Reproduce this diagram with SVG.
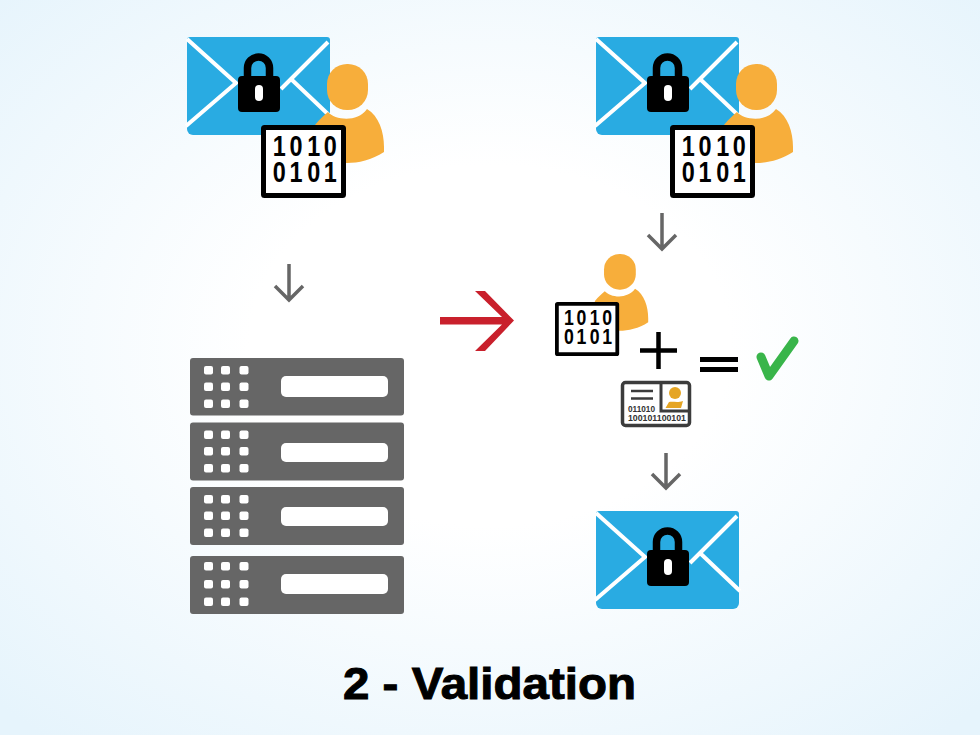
<svg xmlns="http://www.w3.org/2000/svg" width="980" height="735" viewBox="0 0 980 735">
<style>
.gray{fill:none;stroke:#666;stroke-width:3.500}
.rack{fill:#666}
.w{fill:#fff}
.digits{font-family:"Liberation Sans",Arial,sans-serif;font-weight:700;font-size:30px;fill:#000;text-anchor:middle}
.id{font-family:"Liberation Sans",Arial,sans-serif;font-weight:700;font-size:9px;fill:#333}
</style>
<defs>
<radialGradient id="bg" cx="50%" cy="47%" r="70%">
<stop offset="0.35" stop-color="#fff"/><stop offset="1" stop-color="#e6f4fc"/>
</radialGradient>
<symbol id="env" overflow="visible">
<path d="M3 0H140a3 3 0 0 1 3 3V92a6 6 0 0 1-6 6H6a6 6 0 0 1-6-6V3a3 3 0 0 1 3-3Z" fill="#29abe2"/>
<path d="M0 2L49 46L-1 89M141 5L94 52M104 42L144 80" fill="none" stroke="#fff" stroke-width="4"/>
<path d="M60.500 41V31a11 11 0 0 1 22 0V41" fill="none" stroke="#000" stroke-width="7.500"/>
<rect x="51" y="39" width="42" height="36" rx="4" fill="#000"/>
<rect x="68" y="48" width="8" height="16" rx="4" fill="#fff"/>
</symbol>
<symbol id="person" overflow="visible">
<path d="M315 125C320 119 324 115 328 112C335 120 357 123 367 109C379 116 384 132 384 147V152C372 160 358 163 347 163H330Z" fill="#f7ae3b"/>
<rect x="327" y="64" width="41" height="46" rx="20" fill="#f7ae3b"/>
</symbol>
<symbol id="card" overflow="visible">
<rect x="2.500" y="2.500" width="80" height="68" rx="1" fill="#fff" stroke="#000" stroke-width="5"/>
<g transform="scale(.78 1)">
<text class="digits" x="23.500 44.900 67.500 88.800" y="31">1010</text>
<text class="digits" x="23.500 44.900 67.500 88.800" y="56.700">0101</text>
</g>
</symbol>
</defs>
<rect width="980" height="735" fill="url(#bg)"/>
<g id="msg-left">
<use href="#env" x="187" y="37"/>
<use href="#person"/>
<use href="#card" x="261" y="125"/>
</g>
<g id="msg-right">
<use href="#env" x="596" y="37"/>
<use href="#person" x="409"/>
<use href="#card" x="670" y="125"/>
</g>
<g id="server">
<rect class="rack" x="190" y="358" width="214" height="57.500" rx="3"/>
<rect class="rack" x="190" y="422.500" width="214" height="58" rx="3"/>
<rect class="rack" x="190" y="487" width="214" height="58" rx="3"/>
<rect class="rack" x="190" y="556" width="214" height="58" rx="3"/>
<rect class="w" x="281" y="376" width="107" height="21" rx="5"/>
<rect class="w" x="281" y="443" width="107" height="19" rx="5"/>
<rect class="w" x="281" y="507" width="107" height="19" rx="5"/>
<rect class="w" x="281" y="574" width="107" height="20" rx="5"/>
<g class="w">
<rect x="204" y="366" width="9" height="8.500" rx="2"/><rect x="221" y="366" width="9" height="8.500" rx="2"/><rect x="239.500" y="366" width="9" height="8.500" rx="2"/>
<rect x="204" y="382.500" width="9" height="8.500" rx="2"/><rect x="221" y="382.500" width="9" height="8.500" rx="2"/><rect x="239.500" y="382.500" width="9" height="8.500" rx="2"/>
<rect x="204" y="399.500" width="9" height="8.500" rx="2"/><rect x="221" y="399.500" width="9" height="8.500" rx="2"/><rect x="239.500" y="399.500" width="9" height="8.500" rx="2"/>
<rect x="204" y="430.500" width="9" height="8.500" rx="2"/><rect x="221" y="430.500" width="9" height="8.500" rx="2"/><rect x="239.500" y="430.500" width="9" height="8.500" rx="2"/>
<rect x="204" y="447" width="9" height="8.500" rx="2"/><rect x="221" y="447" width="9" height="8.500" rx="2"/><rect x="239.500" y="447" width="9" height="8.500" rx="2"/>
<rect x="204" y="464" width="9" height="8.500" rx="2"/><rect x="221" y="464" width="9" height="8.500" rx="2"/><rect x="239.500" y="464" width="9" height="8.500" rx="2"/>
<rect x="204" y="495" width="9" height="8.500" rx="2"/><rect x="221" y="495" width="9" height="8.500" rx="2"/><rect x="239.500" y="495" width="9" height="8.500" rx="2"/>
<rect x="204" y="511.500" width="9" height="8.500" rx="2"/><rect x="221" y="511.500" width="9" height="8.500" rx="2"/><rect x="239.500" y="511.500" width="9" height="8.500" rx="2"/>
<rect x="204" y="528.500" width="9" height="8.500" rx="2"/><rect x="221" y="528.500" width="9" height="8.500" rx="2"/><rect x="239.500" y="528.500" width="9" height="8.500" rx="2"/>
<rect x="204" y="562" width="9" height="8.500" rx="2"/><rect x="221" y="562" width="9" height="8.500" rx="2"/><rect x="239.500" y="562" width="9" height="8.500" rx="2"/>
<rect x="204" y="580" width="9" height="8.500" rx="2"/><rect x="221" y="580" width="9" height="8.500" rx="2"/><rect x="239.500" y="580" width="9" height="8.500" rx="2"/>
<rect x="204" y="597.500" width="9" height="8.500" rx="2"/><rect x="221" y="597.500" width="9" height="8.500" rx="2"/><rect x="239.500" y="597.500" width="9" height="8.500" rx="2"/>
</g>
</g>
<g id="validation">
<g transform="translate(350.600 204.400) scale(.775)"><use href="#person"/></g>
<g transform="translate(555 302) scale(.755 .74)"><use href="#card"/></g>
<path d="M658.500 332V369M640 350.500H677" fill="none" stroke="#000" stroke-width="4.500"/>
<path d="M700 359.500H738M700 369.500H738" fill="none" stroke="#000" stroke-width="5"/>
<path d="M761 357L769 376L794 341" fill="none" stroke="#39b54a" stroke-width="9" stroke-linecap="round" stroke-linejoin="round"/>
</g>
<g id="id-card">
<rect x="622.500" y="382.500" width="67" height="43" rx="3" fill="#fff" stroke="#3c3c3c" stroke-width="3.500"/>
<path d="M661 382V411H690" fill="none" stroke="#3c3c3c" stroke-width="3"/>
<path d="M631 391H653M631 398.500H653" fill="none" stroke="#3c3c3c" stroke-width="2.500"/>
<circle cx="675" cy="393" r="6" fill="#e5a524"/>
<path d="M665.500 408L669 402C673 401 677 403 683 401L681 408Z" fill="#e5a524"/>
<text class="id" x="628" y="412" textLength="27" lengthAdjust="spacingAndGlyphs">011010</text>
<text class="id" x="628" y="420.500" textLength="58" lengthAdjust="spacingAndGlyphs">100101100101</text>
</g>
<g id="msg-final">
<use href="#env" x="596" y="511"/>
</g>
<g id="connectors">
<path class="gray" d="M289 264V300M275 286L289 300L303 286"/>
<path class="gray" d="M662 213V249M648 235L662 249L676 235"/>
<path class="gray" d="M666 453V488M652 474L666 488L680 474"/>
<path d="M475 291H485L514 320.500L485 351H475L502 324.500H440V317H502Z" fill="#c9202c"/>
</g>
<text id="title" x="343" y="699" font-family="'Liberation Sans', Arial, sans-serif" font-weight="700" font-size="45" textLength="293" lengthAdjust="spacingAndGlyphs" fill="#000" stroke="#000" stroke-width="1">2 - Validation</text>
</svg>
